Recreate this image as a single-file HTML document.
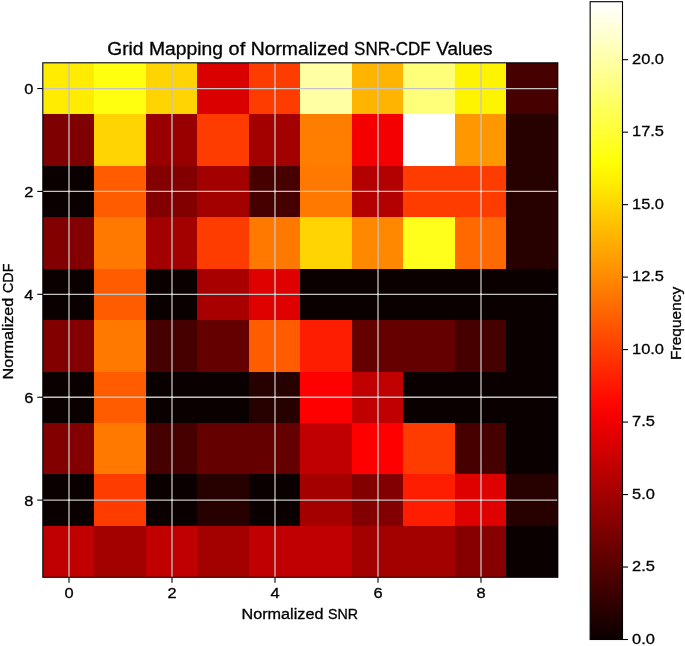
<!DOCTYPE html>
<html><head><meta charset="utf-8"><style>
html,body{margin:0;padding:0;background:#fff;}
body{width:685px;height:646px;overflow:hidden;}
svg{display:block;will-change:transform;filter:blur(0.4px);}
text{font-family:"Liberation Sans", sans-serif;fill:#000;stroke:#000;stroke-width:0.3px;}
</style></head><body>
<svg width="685" height="646" viewBox="0 0 685 646">
<rect x="0" y="0" width="685" height="646" fill="#fff"/>

<g shape-rendering="crispEdges">
<rect x="42.80" y="62.80" width="51.52" height="51.47" fill="#ffec00"/>
<rect x="94.30" y="62.80" width="51.52" height="51.47" fill="#ffff0f"/>
<rect x="145.80" y="62.80" width="51.52" height="51.47" fill="#ffd400"/>
<rect x="197.30" y="62.80" width="51.52" height="51.47" fill="#da0000"/>
<rect x="248.80" y="62.80" width="51.52" height="51.47" fill="#ff3c00"/>
<rect x="300.30" y="62.80" width="51.52" height="51.47" fill="#ffffa4"/>
<rect x="351.80" y="62.80" width="51.52" height="51.47" fill="#ffb500"/>
<rect x="403.30" y="62.80" width="51.52" height="51.47" fill="#ffff79"/>
<rect x="454.80" y="62.80" width="51.52" height="51.47" fill="#fff400"/>
<rect x="506.30" y="62.80" width="51.52" height="51.47" fill="#470000"/>
<rect x="42.80" y="114.25" width="51.52" height="51.47" fill="#7e0000"/>
<rect x="94.30" y="114.25" width="51.52" height="51.47" fill="#ffd400"/>
<rect x="145.80" y="114.25" width="51.52" height="51.47" fill="#980000"/>
<rect x="197.30" y="114.25" width="51.52" height="51.47" fill="#ff3c00"/>
<rect x="248.80" y="114.25" width="51.52" height="51.47" fill="#a30000"/>
<rect x="300.30" y="114.25" width="51.52" height="51.47" fill="#ff7e00"/>
<rect x="351.80" y="114.25" width="51.52" height="51.47" fill="#f40000"/>
<rect x="403.30" y="114.25" width="51.52" height="51.47" fill="#ffffff"/>
<rect x="454.80" y="114.25" width="51.52" height="51.47" fill="#ff9800"/>
<rect x="506.30" y="114.25" width="51.52" height="51.47" fill="#270000"/>
<rect x="42.80" y="165.70" width="51.52" height="51.47" fill="#0b0000"/>
<rect x="94.30" y="165.70" width="51.52" height="51.47" fill="#ff5c00"/>
<rect x="145.80" y="165.70" width="51.52" height="51.47" fill="#830000"/>
<rect x="197.30" y="165.70" width="51.52" height="51.47" fill="#a30000"/>
<rect x="248.80" y="165.70" width="51.52" height="51.47" fill="#470000"/>
<rect x="300.30" y="165.70" width="51.52" height="51.47" fill="#ff7900"/>
<rect x="351.80" y="165.70" width="51.52" height="51.47" fill="#b30000"/>
<rect x="403.30" y="165.70" width="51.52" height="51.47" fill="#ff3c00"/>
<rect x="454.80" y="165.70" width="51.52" height="51.47" fill="#ff3c00"/>
<rect x="506.30" y="165.70" width="51.52" height="51.47" fill="#270000"/>
<rect x="42.80" y="217.15" width="51.52" height="51.47" fill="#830000"/>
<rect x="94.30" y="217.15" width="51.52" height="51.47" fill="#ff7900"/>
<rect x="145.80" y="217.15" width="51.52" height="51.47" fill="#a30000"/>
<rect x="197.30" y="217.15" width="51.52" height="51.47" fill="#ff3c00"/>
<rect x="248.80" y="217.15" width="51.52" height="51.47" fill="#ff7900"/>
<rect x="300.30" y="217.15" width="51.52" height="51.47" fill="#ffd400"/>
<rect x="351.80" y="217.15" width="51.52" height="51.47" fill="#ff8800"/>
<rect x="403.30" y="217.15" width="51.52" height="51.47" fill="#ffff1b"/>
<rect x="454.80" y="217.15" width="51.52" height="51.47" fill="#ff6900"/>
<rect x="506.30" y="217.15" width="51.52" height="51.47" fill="#270000"/>
<rect x="42.80" y="268.60" width="51.52" height="51.47" fill="#0b0000"/>
<rect x="94.30" y="268.60" width="51.52" height="51.47" fill="#ff5c00"/>
<rect x="145.80" y="268.60" width="51.52" height="51.47" fill="#0b0000"/>
<rect x="197.30" y="268.60" width="51.52" height="51.47" fill="#a80000"/>
<rect x="248.80" y="268.60" width="51.52" height="51.47" fill="#df0000"/>
<rect x="300.30" y="268.60" width="51.52" height="51.47" fill="#0b0000"/>
<rect x="351.80" y="268.60" width="51.52" height="51.47" fill="#0b0000"/>
<rect x="403.30" y="268.60" width="51.52" height="51.47" fill="#0b0000"/>
<rect x="454.80" y="268.60" width="51.52" height="51.47" fill="#0b0000"/>
<rect x="506.30" y="268.60" width="51.52" height="51.47" fill="#0b0000"/>
<rect x="42.80" y="320.05" width="51.52" height="51.47" fill="#830000"/>
<rect x="94.30" y="320.05" width="51.52" height="51.47" fill="#ff7900"/>
<rect x="145.80" y="320.05" width="51.52" height="51.47" fill="#470000"/>
<rect x="197.30" y="320.05" width="51.52" height="51.47" fill="#640000"/>
<rect x="248.80" y="320.05" width="51.52" height="51.47" fill="#ff5c00"/>
<rect x="300.30" y="320.05" width="51.52" height="51.47" fill="#ff1d00"/>
<rect x="351.80" y="320.05" width="51.52" height="51.47" fill="#640000"/>
<rect x="403.30" y="320.05" width="51.52" height="51.47" fill="#640000"/>
<rect x="454.80" y="320.05" width="51.52" height="51.47" fill="#470000"/>
<rect x="506.30" y="320.05" width="51.52" height="51.47" fill="#0b0000"/>
<rect x="42.80" y="371.50" width="51.52" height="51.47" fill="#0b0000"/>
<rect x="94.30" y="371.50" width="51.52" height="51.47" fill="#ff5c00"/>
<rect x="145.80" y="371.50" width="51.52" height="51.47" fill="#0b0000"/>
<rect x="197.30" y="371.50" width="51.52" height="51.47" fill="#0b0000"/>
<rect x="248.80" y="371.50" width="51.52" height="51.47" fill="#270000"/>
<rect x="300.30" y="371.50" width="51.52" height="51.47" fill="#ff0000"/>
<rect x="351.80" y="371.50" width="51.52" height="51.47" fill="#c00000"/>
<rect x="403.30" y="371.50" width="51.52" height="51.47" fill="#0b0000"/>
<rect x="454.80" y="371.50" width="51.52" height="51.47" fill="#0b0000"/>
<rect x="506.30" y="371.50" width="51.52" height="51.47" fill="#0b0000"/>
<rect x="42.80" y="422.95" width="51.52" height="51.47" fill="#830000"/>
<rect x="94.30" y="422.95" width="51.52" height="51.47" fill="#ff7900"/>
<rect x="145.80" y="422.95" width="51.52" height="51.47" fill="#470000"/>
<rect x="197.30" y="422.95" width="51.52" height="51.47" fill="#640000"/>
<rect x="248.80" y="422.95" width="51.52" height="51.47" fill="#640000"/>
<rect x="300.30" y="422.95" width="51.52" height="51.47" fill="#c00000"/>
<rect x="351.80" y="422.95" width="51.52" height="51.47" fill="#ff0000"/>
<rect x="403.30" y="422.95" width="51.52" height="51.47" fill="#ff3c00"/>
<rect x="454.80" y="422.95" width="51.52" height="51.47" fill="#470000"/>
<rect x="506.30" y="422.95" width="51.52" height="51.47" fill="#0b0000"/>
<rect x="42.80" y="474.40" width="51.52" height="51.47" fill="#0b0000"/>
<rect x="94.30" y="474.40" width="51.52" height="51.47" fill="#ff3c00"/>
<rect x="145.80" y="474.40" width="51.52" height="51.47" fill="#0b0000"/>
<rect x="197.30" y="474.40" width="51.52" height="51.47" fill="#270000"/>
<rect x="248.80" y="474.40" width="51.52" height="51.47" fill="#0b0000"/>
<rect x="300.30" y="474.40" width="51.52" height="51.47" fill="#a50000"/>
<rect x="351.80" y="474.40" width="51.52" height="51.47" fill="#830000"/>
<rect x="403.30" y="474.40" width="51.52" height="51.47" fill="#ff1d00"/>
<rect x="454.80" y="474.40" width="51.52" height="51.47" fill="#df0000"/>
<rect x="506.30" y="474.40" width="51.52" height="51.47" fill="#270000"/>
<rect x="42.80" y="525.85" width="51.52" height="51.47" fill="#c00000"/>
<rect x="94.30" y="525.85" width="51.52" height="51.47" fill="#a30000"/>
<rect x="145.80" y="525.85" width="51.52" height="51.47" fill="#c00000"/>
<rect x="197.30" y="525.85" width="51.52" height="51.47" fill="#a30000"/>
<rect x="248.80" y="525.85" width="51.52" height="51.47" fill="#c00000"/>
<rect x="300.30" y="525.85" width="51.52" height="51.47" fill="#c00000"/>
<rect x="351.80" y="525.85" width="51.52" height="51.47" fill="#a30000"/>
<rect x="403.30" y="525.85" width="51.52" height="51.47" fill="#a30000"/>
<rect x="454.80" y="525.85" width="51.52" height="51.47" fill="#860000"/>
<rect x="506.30" y="525.85" width="51.52" height="51.47" fill="#0b0000"/>
</g>
<line x1="69.00" y1="62.80" x2="69.00" y2="577.30" stroke="#c4c4c4" stroke-width="1.3"/>
<line x1="42.80" y1="88.53" x2="557.80" y2="88.53" stroke="#c4c4c4" stroke-width="1.3"/>
<line x1="172.00" y1="62.80" x2="172.00" y2="577.30" stroke="#c4c4c4" stroke-width="1.3"/>
<line x1="42.80" y1="191.43" x2="557.80" y2="191.43" stroke="#c4c4c4" stroke-width="1.3"/>
<line x1="275.00" y1="62.80" x2="275.00" y2="577.30" stroke="#c4c4c4" stroke-width="1.3"/>
<line x1="42.80" y1="294.32" x2="557.80" y2="294.32" stroke="#c4c4c4" stroke-width="1.3"/>
<line x1="378.00" y1="62.80" x2="378.00" y2="577.30" stroke="#c4c4c4" stroke-width="1.3"/>
<line x1="42.80" y1="397.23" x2="557.80" y2="397.23" stroke="#c4c4c4" stroke-width="1.3"/>
<line x1="481.00" y1="62.80" x2="481.00" y2="577.30" stroke="#c4c4c4" stroke-width="1.3"/>
<line x1="42.80" y1="500.13" x2="557.80" y2="500.13" stroke="#c4c4c4" stroke-width="1.3"/>
<rect x="274.20" y="87.73" width="1.6" height="1.6" fill="#ececec"/>
<rect x="68.20" y="190.62" width="1.6" height="1.6" fill="#ececec"/>
<rect x="171.20" y="190.62" width="1.6" height="1.6" fill="#ececec"/>
<rect x="274.20" y="190.62" width="1.6" height="1.6" fill="#ececec"/>
<rect x="377.20" y="190.62" width="1.6" height="1.6" fill="#ececec"/>
<rect x="480.20" y="190.62" width="1.6" height="1.6" fill="#ececec"/>
<rect x="68.20" y="293.52" width="1.6" height="1.6" fill="#ececec"/>
<rect x="171.20" y="293.52" width="1.6" height="1.6" fill="#ececec"/>
<rect x="274.20" y="293.52" width="1.6" height="1.6" fill="#ececec"/>
<rect x="377.20" y="293.52" width="1.6" height="1.6" fill="#ececec"/>
<rect x="480.20" y="293.52" width="1.6" height="1.6" fill="#ececec"/>
<rect x="68.20" y="396.43" width="1.6" height="1.6" fill="#ececec"/>
<rect x="171.20" y="396.43" width="1.6" height="1.6" fill="#ececec"/>
<rect x="274.20" y="396.43" width="1.6" height="1.6" fill="#ececec"/>
<rect x="377.20" y="396.43" width="1.6" height="1.6" fill="#ececec"/>
<rect x="480.20" y="396.43" width="1.6" height="1.6" fill="#ececec"/>
<rect x="68.20" y="499.33" width="1.6" height="1.6" fill="#ececec"/>
<rect x="171.20" y="499.33" width="1.6" height="1.6" fill="#ececec"/>
<rect x="274.20" y="499.33" width="1.6" height="1.6" fill="#ececec"/>
<rect x="377.20" y="499.33" width="1.6" height="1.6" fill="#ececec"/>
<rect x="480.20" y="499.33" width="1.6" height="1.6" fill="#ececec"/>
<rect x="42.80" y="62.80" width="515.00" height="514.50" fill="none" stroke="#000" stroke-width="1.1"/>
<line x1="69.00" y1="577.30" x2="69.00" y2="582.80" stroke="#000" stroke-width="1.1"/>
<line x1="37.30" y1="88.53" x2="42.80" y2="88.53" stroke="#000" stroke-width="1.1"/>
<line x1="172.00" y1="577.30" x2="172.00" y2="582.80" stroke="#000" stroke-width="1.1"/>
<line x1="37.30" y1="191.43" x2="42.80" y2="191.43" stroke="#000" stroke-width="1.1"/>
<line x1="275.00" y1="577.30" x2="275.00" y2="582.80" stroke="#000" stroke-width="1.1"/>
<line x1="37.30" y1="294.32" x2="42.80" y2="294.32" stroke="#000" stroke-width="1.1"/>
<line x1="378.00" y1="577.30" x2="378.00" y2="582.80" stroke="#000" stroke-width="1.1"/>
<line x1="37.30" y1="397.23" x2="42.80" y2="397.23" stroke="#000" stroke-width="1.1"/>
<line x1="481.00" y1="577.30" x2="481.00" y2="582.80" stroke="#000" stroke-width="1.1"/>
<line x1="37.30" y1="500.13" x2="42.80" y2="500.13" stroke="#000" stroke-width="1.1"/>
<text x="69.00" y="598.20" font-size="15.30" text-anchor="middle" textLength="9.13" lengthAdjust="spacingAndGlyphs">0</text>
<text x="33.50" y="94.12" font-size="15.30" text-anchor="end" textLength="9.13" lengthAdjust="spacingAndGlyphs">0</text>
<text x="172.00" y="598.20" font-size="15.30" text-anchor="middle" textLength="9.13" lengthAdjust="spacingAndGlyphs">2</text>
<text x="33.50" y="197.03" font-size="15.30" text-anchor="end" textLength="9.13" lengthAdjust="spacingAndGlyphs">2</text>
<text x="275.00" y="598.20" font-size="15.30" text-anchor="middle" textLength="9.13" lengthAdjust="spacingAndGlyphs">4</text>
<text x="33.50" y="299.93" font-size="15.30" text-anchor="end" textLength="9.13" lengthAdjust="spacingAndGlyphs">4</text>
<text x="378.00" y="598.20" font-size="15.30" text-anchor="middle" textLength="9.13" lengthAdjust="spacingAndGlyphs">6</text>
<text x="33.50" y="402.83" font-size="15.30" text-anchor="end" textLength="9.13" lengthAdjust="spacingAndGlyphs">6</text>
<text x="481.00" y="598.20" font-size="15.30" text-anchor="middle" textLength="9.13" lengthAdjust="spacingAndGlyphs">8</text>
<text x="33.50" y="505.73" font-size="15.30" text-anchor="end" textLength="9.13" lengthAdjust="spacingAndGlyphs">8</text>
<text x="241.50" y="618.6" font-size="14.7" textLength="81.94" lengthAdjust="spacingAndGlyphs">Normalized</text>
<text x="328.04" y="618.6" font-size="14.7" textLength="30.02" lengthAdjust="spacingAndGlyphs">SNR</text>
<text transform="translate(13.1,379.57) rotate(-90)" x="0" y="0" font-size="14.7" textLength="81.94" lengthAdjust="spacingAndGlyphs">Normalized</text>
<text transform="translate(13.1,293.03) rotate(-90)" x="0" y="0" font-size="14.7" textLength="29.53" lengthAdjust="spacingAndGlyphs">CDF</text>
<text x="107.30" y="54.7" font-size="18.3" textLength="36.22" lengthAdjust="spacingAndGlyphs">Grid</text>
<text x="149.01" y="54.7" font-size="18.3" textLength="74.07" lengthAdjust="spacingAndGlyphs">Mapping</text>
<text x="228.57" y="54.7" font-size="18.3" textLength="16.64" lengthAdjust="spacingAndGlyphs">of</text>
<text x="250.69" y="54.7" font-size="18.3" textLength="97.88" lengthAdjust="spacingAndGlyphs">Normalized</text>
<text x="354.06" y="54.7" font-size="18.3" textLength="76.66" lengthAdjust="spacingAndGlyphs">SNR-CDF</text>
<text x="436.20" y="54.7" font-size="18.3" textLength="56.39" lengthAdjust="spacingAndGlyphs">Values</text>
<defs><linearGradient id="cb" x1="0" y1="1" x2="0" y2="0">
<stop offset="0.0000" stop-color="#0b0000"/>
<stop offset="0.0312" stop-color="#200000"/>
<stop offset="0.0625" stop-color="#350000"/>
<stop offset="0.0938" stop-color="#4a0000"/>
<stop offset="0.1250" stop-color="#5f0000"/>
<stop offset="0.1562" stop-color="#740000"/>
<stop offset="0.1875" stop-color="#890000"/>
<stop offset="0.2188" stop-color="#9e0000"/>
<stop offset="0.2500" stop-color="#b30000"/>
<stop offset="0.2812" stop-color="#c80000"/>
<stop offset="0.3125" stop-color="#dd0000"/>
<stop offset="0.3438" stop-color="#f20000"/>
<stop offset="0.3750" stop-color="#ff0800"/>
<stop offset="0.4062" stop-color="#ff1d00"/>
<stop offset="0.4375" stop-color="#ff3200"/>
<stop offset="0.4688" stop-color="#ff4700"/>
<stop offset="0.5000" stop-color="#ff5c00"/>
<stop offset="0.5312" stop-color="#ff7100"/>
<stop offset="0.5625" stop-color="#ff8600"/>
<stop offset="0.5938" stop-color="#ff9b00"/>
<stop offset="0.6250" stop-color="#ffb000"/>
<stop offset="0.6562" stop-color="#ffc500"/>
<stop offset="0.6875" stop-color="#ffda00"/>
<stop offset="0.7188" stop-color="#ffef00"/>
<stop offset="0.7500" stop-color="#ffff07"/>
<stop offset="0.7812" stop-color="#ffff26"/>
<stop offset="0.8125" stop-color="#ffff46"/>
<stop offset="0.8438" stop-color="#ffff65"/>
<stop offset="0.8750" stop-color="#ffff85"/>
<stop offset="0.9062" stop-color="#ffffa4"/>
<stop offset="0.9375" stop-color="#ffffc4"/>
<stop offset="0.9688" stop-color="#ffffe3"/>
<stop offset="1.0000" stop-color="#ffffff"/>
</linearGradient></defs>
<rect x="590.15" y="1.70" width="32.35" height="637.80" fill="url(#cb)" stroke="#000" stroke-width="1.1"/>
<line x1="622.50" y1="639.50" x2="628.00" y2="639.50" stroke="#000" stroke-width="1.1"/>
<text x="632.00" y="643.80" font-size="15.30" textLength="22.82" lengthAdjust="spacingAndGlyphs">0.0</text>
<line x1="622.50" y1="567.02" x2="628.00" y2="567.02" stroke="#000" stroke-width="1.1"/>
<text x="632.00" y="571.32" font-size="15.30" textLength="22.82" lengthAdjust="spacingAndGlyphs">2.5</text>
<line x1="622.50" y1="494.55" x2="628.00" y2="494.55" stroke="#000" stroke-width="1.1"/>
<text x="632.00" y="498.85" font-size="15.30" textLength="22.82" lengthAdjust="spacingAndGlyphs">5.0</text>
<line x1="622.50" y1="422.07" x2="628.00" y2="422.07" stroke="#000" stroke-width="1.1"/>
<text x="632.00" y="426.37" font-size="15.30" textLength="22.82" lengthAdjust="spacingAndGlyphs">7.5</text>
<line x1="622.50" y1="349.59" x2="628.00" y2="349.59" stroke="#000" stroke-width="1.1"/>
<text x="632.00" y="353.89" font-size="15.30" textLength="31.95" lengthAdjust="spacingAndGlyphs">10.0</text>
<line x1="622.50" y1="277.11" x2="628.00" y2="277.11" stroke="#000" stroke-width="1.1"/>
<text x="632.00" y="281.41" font-size="15.30" textLength="31.95" lengthAdjust="spacingAndGlyphs">12.5</text>
<line x1="622.50" y1="204.64" x2="628.00" y2="204.64" stroke="#000" stroke-width="1.1"/>
<text x="632.00" y="208.94" font-size="15.30" textLength="31.95" lengthAdjust="spacingAndGlyphs">15.0</text>
<line x1="622.50" y1="132.16" x2="628.00" y2="132.16" stroke="#000" stroke-width="1.1"/>
<text x="632.00" y="136.46" font-size="15.30" textLength="31.95" lengthAdjust="spacingAndGlyphs">17.5</text>
<line x1="622.50" y1="59.68" x2="628.00" y2="59.68" stroke="#000" stroke-width="1.1"/>
<text x="632.00" y="63.98" font-size="15.30" textLength="31.95" lengthAdjust="spacingAndGlyphs">20.0</text>
<text transform="translate(680.9,323.3) rotate(-90)" x="0" y="0" font-size="14.7" text-anchor="middle" textLength="73.2" lengthAdjust="spacingAndGlyphs">Frequency</text>
</svg></body></html>
